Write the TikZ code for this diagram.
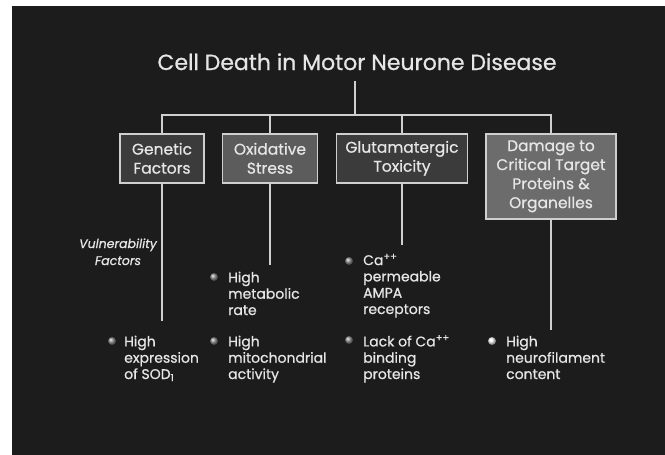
\documentclass[tikz,border=0pt]{standalone}
\usepackage{fontspec}
\setmainfont{Poppins}[FakeBold=0.7]
\usetikzlibrary{positioning}

\definecolor{slate}{HTML}{1C1C1C}
\definecolor{ink}{HTML}{E6E6E6}
\definecolor{rim}{HTML}{CFCFCF}
\definecolor{boxdark}{HTML}{3B3B3B}
\definecolor{boxmid}{HTML}{5C5C5C}
\definecolor{boxlight}{HTML}{6C6C6C}

\newcommand\titlefont{\fontsize{22}{26}\selectfont}
\newcommand\boxfont{\fontsize{15.5}{19}\selectfont}
\newcommand\itemfont{\fontsize{14}{16.3}\selectfont}
\newcommand\notefont{\fontsize{12.5}{17}\selectfont\itshape}

\begin{document}
\begin{tikzpicture}[
    x=1pt, y=-1pt,
    title/.style={text=ink, font=\titlefont, inner xsep=0pt, inner ysep=11pt, anchor=base},
    box/.style={draw=rim, line width=1.6pt, minimum height=49pt, inner sep=0pt, align=center, text=ink, font=\boxfont, anchor=north},
    wire/.style={draw=rim, line width=1.8pt},
    item/.style={text=ink, font=\itemfont, align=left, inner sep=0pt, anchor=base west},
    bullet/.style={circle, shade, ball color=gray!85, minimum size=8pt, inner sep=0pt},
    brightbullet/.style={bullet, ball color=white}
  ]
  % backdrop with its white margins
  \fill[white] (0,0) rectangle (665,455);
  \fill[slate] (12,6) rectangle (665,455);
  \useasboundingbox (0,0) rectangle (665,455);

  \node[title] (title) at (357,70) {Cell Death in Motor Neurone Disease};

  % the four causes
  \node[box, fill=boxdark, minimum width=84pt] (gen) at (162,133) {Genetic\\Factors};
  \node[box, fill=boxmid, minimum width=95pt] (oxi) at (270,133) {Oxidative\\Stress};
  \node[box, fill=boxdark, minimum width=131pt] (glu) at (402,133) {Glutamatergic\\Toxicity};
  \node[box, fill=boxlight, minimum width=130pt, minimum height=85pt] (dmg) at (551,133)
    {Damage to\\Critical Target\\Proteins \&\\Organelles};

  \coordinate (split) at (355,115);
  \draw[wire] (split |- title.south) -- (split);
  \draw[wire] (split) -| (gen.north);
  \draw[wire] (split) -| (oxi.north);
  \draw[wire] (split) -| (glu.north);
  \draw[wire] (split) -| (dmg.north);

  % stems down to the lists
  \coordinate (genfoot) at (162,321);
  \coordinate (oxifoot) at (270,265);
  \coordinate (glufoot) at (402,245);
  \coordinate (dmgfoot) at (551,330);
  \draw[wire] (gen.south) -- (genfoot);
  \draw[wire] (oxi.south) -- (oxifoot);
  \draw[wire] (glu.south) -- (glufoot);
  \draw[wire] (dmg.south) -- (dmgfoot);

  % anchor base = baseline of the last line
  \node[text=ink, font=\notefont, align=center, inner sep=0pt, anchor=base] (vul) at (118,265)
    {Vulnerability\\Factors};

  % factor lists
  \node[bullet] (bsod) at (112,341) {};
  \node[item] (sod) at (124,379) {High\\expression\\of SOD\textsubscript{1}};

  \node[bullet] (bmet) at (214,277) {};
  \node[item] (met) at (228,315) {High\\metabolic\\rate};
  \node[bullet] (bmit) at (214,341) {};
  \node[item] (mit) at (228,379) {High\\mitochondrial\\activity};

  \node[bullet] (bampa) at (349,261) {};
  \node[item] (ampa) at (363,314) {Ca\textsuperscript{++}\\permeable\\AMPA\\receptors};
  \node[bullet] (bbind) at (349,340) {};
  \node[item] (bind) at (363,379) {Lack of Ca\textsuperscript{++}\\binding\\proteins};

  \node[brightbullet] (bnf) at (492,341) {};
  \node[item] (nf) at (506,379) {High\\neurofilament\\content};
\end{tikzpicture}
\end{document}
